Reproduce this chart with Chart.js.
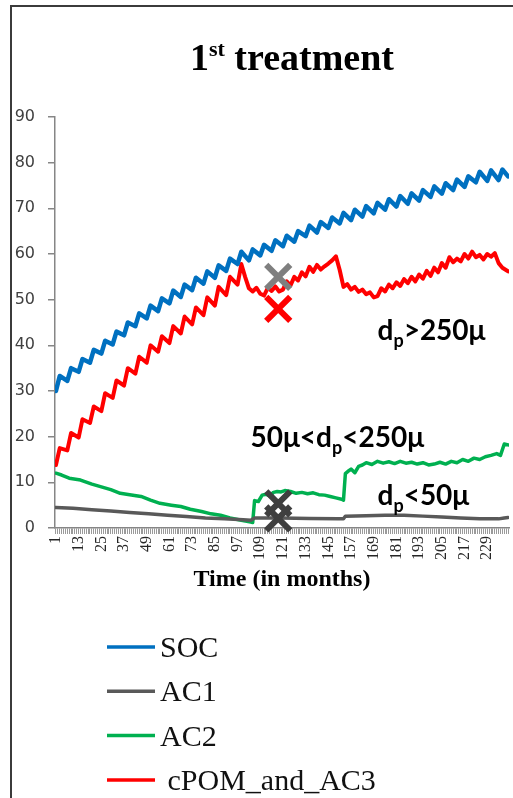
<!DOCTYPE html>
<html><head><meta charset="utf-8">
<script src="https://cdn.jsdelivr.net/npm/chart.js@4.4.0/dist/chart.umd.min.js"></script>
<style>html,body{margin:0;padding:0;background:#fff;}#wrap{position:relative;width:513px;height:798px;}</style>
</head><body><div id="wrap"><canvas id="c"></canvas></div>
<script>
// ---- data ----
const xTickLabels = [1,13,25,37,49,61,73,85,97,109,121,133,145,157,169,181,193,205,217,229];
const seriesNames = ['SOC','AC1','AC2','cPOM_and_AC3'];
const seriesColors = ['#0070C0','#595959','#00B050','#FF0000'];

const socMonths = [1,3,7,9,13,15,19,21,25,27,31,33,37,39,43,45,49,51,55,57,61,63,67,69,73,75,79,81,85,87,91,93,97,99,103,105,109,111,115,117,121,123,127,129,133,135,139,141,145,147,151,153,157,159,163,165,169,171,175,177,181,183,187,189,193,195,199,201,205,207,211,213,217,219,223,225,229,231,235,237,240];
const socValues = [30.0,33.3,32.2,35.0,34.2,37.0,36.2,39.0,38.2,41.0,40.2,43.0,42.2,45.0,44.2,47.0,45.9,48.7,47.5,50.3,49.2,52.0,50.6,53.3,52.1,54.8,53.5,56.2,54.8,57.5,56.3,59.0,57.8,60.5,58.6,61.0,59.7,62.0,60.7,63.0,61.7,64.0,62.7,65.0,63.9,66.2,64.7,67.0,65.7,68.0,66.7,69.0,67.4,69.7,68.2,70.5,68.9,71.2,69.7,72.0,70.4,72.7,71.0,73.3,71.7,74.0,72.5,74.8,73.2,75.5,74.0,76.3,74.7,77.0,75.7,78.0,76.0,78.3,76.2,78.5,77.0];

const ac1Months = [1,10,20,30,40,50,60,70,80,90,100,104,106,120,135,150,153,154,165,175,185,195,205,215,225,235,238,240];
const ac1Values = [4.5,4.3,4.0,3.7,3.4,3.1,2.8,2.5,2.2,2.0,1.8,1.7,2.2,2.2,2.1,2.0,2.0,2.6,2.7,2.8,2.8,2.6,2.4,2.2,2.0,2.0,2.2,2.3];

const ac2Months = [1,4,8,14,20,25,30,35,40,46,51,56,62,67,72,78,83,88,93,99,104,105,106,108,110,112,114,116,118,120,122,125,128,131,134,137,140,143,146,149,152,153,154,156,157,159,161,163,165,168,171,174,177,180,183,186,189,192,195,198,201,204,207,210,213,216,219,222,225,228,231,234,236,238,240];
const ac2Values = [12.0,11.6,10.9,10.5,9.6,9.0,8.4,7.6,7.3,6.9,6.1,5.4,5.0,4.7,4.1,3.6,3.1,2.8,2.2,1.7,1.3,1.2,6.0,5.8,7.2,7.4,7.0,7.8,8.0,7.9,8.2,8.0,7.6,7.8,7.5,7.7,7.3,7.2,6.9,6.6,6.3,6.1,11.9,12.6,12.9,12.1,13.5,13.8,14.3,13.9,14.6,14.2,14.5,14.1,14.6,14.2,14.4,14.0,14.3,13.8,14.0,14.4,14.0,14.6,14.3,15.0,14.6,15.3,15.0,15.6,15.9,16.3,15.9,18.4,18.2];

const cpomMonths = [1,3,7,9,13,15,19,21,25,27,31,33,37,39,43,45,49,51,55,57,61,63,67,69,73,75,79,81,85,87,91,93,97,99,101,103,105,107,109,111,113,115,117,119,121,123,125,127,129,131,133,135,137,139,141,143,145,147,149,151,153,155,157,159,161,163,165,167,169,171,173,175,177,179,181,183,185,187,189,191,193,195,197,199,201,203,205,207,209,211,213,215,217,219,221,223,225,227,229,231,233,235,237,240];
const cpomValues = [13.8,17.5,17.0,20.8,19.8,23.8,23.0,26.6,25.6,29.5,28.5,32.3,31.2,35.0,33.8,37.5,36.2,40.0,38.6,42.0,40.5,44.2,42.6,46.3,44.6,48.3,46.6,50.5,48.7,52.8,51.0,55.0,53.3,57.8,55.0,52.5,51.8,52.6,51.3,50.9,52.6,51.9,52.9,51.8,52.2,54.0,53.1,55.0,54.2,56.0,55.1,57.2,56.1,57.6,56.6,57.3,57.9,58.6,59.5,56.5,52.8,53.4,52.2,52.8,51.7,52.2,51.2,51.6,50.5,50.8,52.5,51.8,53.3,52.5,53.8,53.0,54.5,53.6,55.0,54.0,55.5,54.6,56.3,55.2,57.0,56.0,58.0,57.0,59.3,58.2,59.0,58.4,60.0,59.0,60.5,59.3,59.8,58.8,60.0,59.4,60.2,58.0,57.0,56.2];

const markMonths = [118.5,118.5,118.5,118.5];
const markValues = [55.0,48.0,5.4,2.1];
const markColors = ['#7F7F7F','#FF0000','#3F3F3F','#3F3F3F'];

const annotations = [
  {month:171, value:41.2, parts:[['d',0],['p',1],['>250μ',0]]},
  {month:103.8, value:17.7, parts:[['50μ<d',0],['p',1],['<250μ',0]]},
  {month:171, value:5.0, parts:[['d',0],['p',1],['<50μ',0]]}
];

const pts = (ms, vs) => ms.map((m,i) => ({x:m, y:vs[i]}));
const seriesData = [pts(socMonths,socValues), pts(ac1Months,ac1Values), pts(ac2Months,ac2Values), pts(cpomMonths,cpomValues)];
const lineWidths = [4.5,3.5,3.5,4];

function drawRich(ctx, parts, x, y) {
  let cx = x;
  for (const p of parts) {
    ctx.font = p.font;
    ctx.fillText(p.text, cx, y + (p.dy || 0));
    cx += ctx.measureText(p.text).width;
  }
}
function richWidth(ctx, parts) {
  let w = 0;
  for (const p of parts) { ctx.font = p.font; w += ctx.measureText(p.text).width; }
  return w;
}

const decor = {
  id: 'decor',
  afterDraw(chart) {
    const ctx = chart.ctx, xs = chart.scales.x, ys = chart.scales.y, ca = chart.chartArea;
    ctx.save();
    // frame
    ctx.strokeStyle = '#3b3b3b'; ctx.lineWidth = 2;
    ctx.beginPath(); ctx.moveTo(11, chart.height); ctx.lineTo(11, 6); ctx.lineTo(chart.width, 6); ctx.stroke();
    // title
    ctx.fillStyle = '#000'; ctx.textBaseline = 'alphabetic'; ctx.textAlign = 'left';
    const tparts = [
      {text:'1', font:'bold 38px "Liberation Serif"'},
      {text:'st', font:'bold 22px "Liberation Serif"', dy:-14},
      {text:' treatment', font:'bold 38px "Liberation Serif"'}
    ];
    const tw = richWidth(ctx, tparts);
    drawRich(ctx, tparts, 292 - tw/2, 70);
    // annotations
    ctx.fillStyle = '#000';
    for (const a of annotations) {
      const parts = a.parts.map(([t, sub]) => sub ? {text:t, font:'bold 18px Lato', dy:7} : {text:t, font:'bold 28px Lato'});
      drawRich(ctx, parts, xs.getPixelForValue(a.month), ys.getPixelForValue(a.value));
    }
    // legend
    const legendTop = ca.bottom + 119;
    const lines = chart.data.datasets.filter(ds => !ds.isMark);
    lines.forEach((ds, i) => {
      const y = legendTop + i * 44.3;
      ctx.strokeStyle = ds.borderColor; ctx.lineWidth = 3.5;
      ctx.beginPath(); ctx.moveTo(107, y); ctx.lineTo(155, y); ctx.stroke();
      ctx.fillStyle = '#111';
      ctx.font = '30px "Liberation Serif"';
      ctx.fillText((i === 3 ? ' ' : '') + ds.label, 160, y + 10);
    });
    ctx.restore();
  }
};

const datasets = [
  {type:'scatter', label:'marks', isMark:true, data:pts(markMonths, markValues), pointStyle:'crossRot',
   pointRadius:17, pointBorderWidth:6, pointBorderColor:markColors, pointBackgroundColor:markColors, order:-1, clip:false}
].concat(seriesNames.map((n, i) => ({
  type:'line', label:n, data:seriesData[i], borderColor:seriesColors[i], backgroundColor:seriesColors[i],
  borderWidth:lineWidths[i], pointRadius:0, tension:0, borderJoinStyle:'round', borderCapStyle:'round', fill:false
})));

new Chart(document.getElementById('c'), {
  data: {datasets},
  plugins: [decor],
  options: {
    responsive:true, maintainAspectRatio:false, animation:false,
    layout:{autoPadding:false, padding:{left:0, top:117, right:4, bottom:200}},
    plugins:{legend:{display:false}, tooltip:{enabled:false}, title:{display:false}},
    scales:{
      x:{type:'linear', min:0.5, max:240.5,
        afterBuildTicks: s => { const t = []; for (let m = 1; m <= 240; m++) t.push({value:m}); s.ticks = t; },
        afterFit: s => { s.height = 70; s.paddingRight = 0; s.paddingLeft = 0; },
        ticks:{autoSkip:false, minRotation:90, maxRotation:90, padding:2, color:'#262626',
          font:{family:'Liberation Serif', size:16},
          callback: v => xTickLabels.includes(v) ? String(v) : ''},
        grid:{drawOnChartArea:false, drawTicks:true, tickLength:6, color:'#9a9a9a', lineWidth:1},
        border:{color:'#868686', width:1.5},
        title:{display:true, text:'Time (in months)', color:'#000', font:{family:'Liberation Serif', size:24, weight:'bold'}, padding:{top:0, bottom:4}}
      },
      y:{type:'linear', min:0, max:90,
        afterFit: s => { s.width = 55; s.paddingTop = 0; s.paddingBottom = 0; },
        ticks:{stepSize:10, padding:13, color:'#404040', font:{family:'DejaVu Sans', size:16}},
        grid:{drawOnChartArea:false, drawTicks:true, tickLength:7, color:'#868686', lineWidth:1.5},
        border:{color:'#868686', width:1.5}
      }
    }
  }
});
</script></body></html>
